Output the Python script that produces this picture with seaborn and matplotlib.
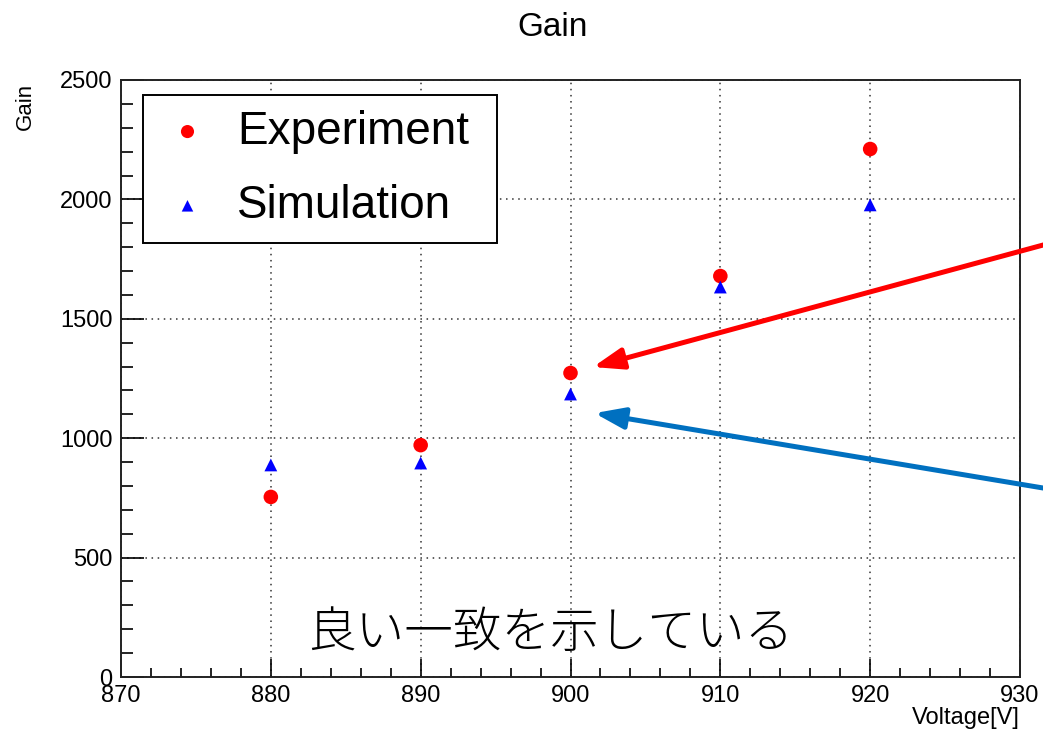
import matplotlib
matplotlib.use("Agg")
import matplotlib.pyplot as plt
from matplotlib.ticker import MultipleLocator
import seaborn as sns
import pandas as pd

# Measured gain versus supply voltage
voltage = [880, 890, 900, 910, 920]
gain_experiment = [754, 971, 1273, 1679, 2211]
gain_simulation = [888, 896, 1185, 1633, 1977]

series_names = ["Experiment", "Simulation"]
x_ticks = [870, 880, 890, 900, 910, 920, 930]
y_ticks = [0, 500, 1000, 1500, 2000, 2500]

sns.set_style("ticks")
plt.rcParams["font.family"] = ["Liberation Sans", "DejaVu Sans"]
plt.rcParams["text.color"] = "black"
plt.rcParams["xtick.color"] = "black"
plt.rcParams["ytick.color"] = "black"
plt.rcParams["xtick.labelcolor"] = "black"
plt.rcParams["ytick.labelcolor"] = "black"

df = pd.DataFrame({
    "Voltage": voltage * 2,
    "Gain": gain_experiment + gain_simulation,
    "Series": [series_names[0]] * len(voltage) + [series_names[1]] * len(voltage),
})

fig = plt.figure(figsize=(10.43, 7.34), dpi=100)
ax = fig.add_axes([121 / 1043, 1 - 677 / 734, (1020 - 121) / 1043, (677 - 80) / 734])

sns.scatterplot(data=df[df.Series == "Experiment"], x="Voltage", y="Gain",
                color="#ff0000", marker="o", s=110, edgecolor="none",
                label="Experiment", ax=ax, zorder=3)
sns.scatterplot(data=df[df.Series == "Simulation"], x="Voltage", y="Gain",
                color="#0000ff", marker="^", s=85, edgecolor="none",
                label="Simulation", ax=ax, zorder=3)

ax.set_xlim(870, 930)
ax.set_ylim(0, 2500)
ax.set_xticks(x_ticks)
ax.set_yticks(y_ticks)
ax.xaxis.set_minor_locator(MultipleLocator(2))
ax.yaxis.set_minor_locator(MultipleLocator(100))
ax.tick_params(axis="both", which="both", direction="in", top=False, right=False,
               labelsize=17, color="black", labelcolor="black", width=1.2)
ax.tick_params(axis="x", which="major", length=13, pad=6)
ax.tick_params(axis="x", which="minor", length=6.5)
ax.tick_params(axis="y", which="major", length=16.5, pad=6)
ax.tick_params(axis="y", which="minor", length=8.5)
for s in ax.spines.values():
    s.set_visible(True)
    s.set_color("#222222")
    s.set_linewidth(1.4)

ax.grid(True, which="major", color="#333333", linestyle=(0, (1, 3)), linewidth=1.1)
ax.set_axisbelow(True)
ax.set_xlabel("")
ax.set_ylabel("")

leg = ax.legend(loc="upper left", bbox_to_anchor=(0.0245, 0.732, 0.3935, 0.243),
                mode="expand", fontsize=33,
                frameon=True, fancybox=False, edgecolor="black", framealpha=1,
                handletextpad=0.43, borderpad=0.32, labelspacing=0.66,
                markerscale=0.9, handlelength=1.3, borderaxespad=0)
leg.get_frame().set_linewidth(1.4)
for t in leg.get_texts():
    t.set_color("black")

fig.text(553 / 1043, 1 - 28 / 734, "Gain", fontsize=24, ha="center", va="center")
fig.text(25 / 1043, 1 - 106 / 734, "Gain", fontsize=16, rotation=90,
         ha="center", va="center")
fig.text(1020 / 1043, 1 - 718 / 734, "Voltage[V]", fontsize=17, ha="right", va="center")

fig.text(550 / 1043, 1 - 633 / 734, "良い一致を示している", fontsize=35,
         ha="center", va="center", family=["Noto Sans CJK JP", "DejaVu Sans"],
         fontweight="light")

# Callout arrows pointing at the 900 V points from outside the frame
ax.annotate("", xy=(901.5, 1298), xycoords="data",
            xytext=(1100 / 1043, 1 - 229.6 / 734), textcoords="figure fraction",
            annotation_clip=False,
            arrowprops=dict(arrowstyle="-|>,head_length=0.9,head_width=0.32",
                            mutation_scale=20, lw=3.6, color="#ff0000",
                            shrinkA=0, shrinkB=0))
ax.annotate("", xy=(901.6, 1105), xycoords="data",
            xytext=(1100 / 1043, 1 - 497.5 / 734), textcoords="figure fraction",
            annotation_clip=False,
            arrowprops=dict(arrowstyle="-|>,head_length=0.9,head_width=0.32",
                            mutation_scale=20, lw=3.6, color="#0070c0",
                            shrinkA=0, shrinkB=0))

fig.savefig("out.png", dpi=100)
